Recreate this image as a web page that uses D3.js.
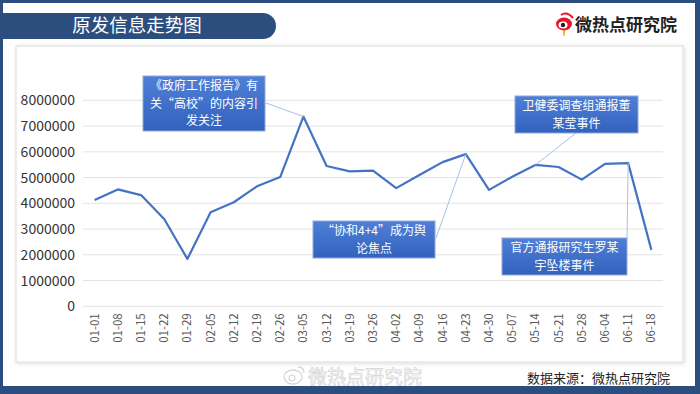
<!DOCTYPE html>
<html>
<head>
<meta charset="utf-8">
<script src="https://cdn.jsdelivr.net/npm/d3@7"></script>
<style>
  html, body { margin: 0; padding: 0; background: #fff; }
  svg { display: block; font-family: "Noto Sans CJK SC", "Noto Sans", sans-serif; }
</style>
</head>
<body>
<div id="chart"></div>
<script>
// weekly dates and values
const dates = ['01-01', '01-08', '01-15', '01-22', '01-29', '02-05', '02-12', '02-19', '02-26',
  '03-05', '03-12', '03-19', '03-26', '04-02', '04-09', '04-16', '04-23', '04-30',
  '05-07', '05-14', '05-21', '05-28', '06-04', '06-11', '06-18'];
const values = [4130000, 4540000, 4320000, 3390000, 1840000, 3650000, 4040000, 4660000, 5020000,
  7370000, 5450000, 5240000, 5270000, 4590000, 5100000, 5600000, 5910000, 4520000,
  5030000, 5490000, 5410000, 4920000, 5530000, 5560000, 2190000];
const yTicks = [0, 1000000, 2000000, 3000000, 4000000, 5000000, 6000000, 7000000, 8000000];

const noteDates = ['03-05', '05-14', '04-23', '06-11'];
const noteTexts = [
  ['《政府工作报告》有', '关“高校”的内容引', '发关注'],
  ['卫健委调查组通报董', '某莹事件'],
  ['“协和4+4”成为舆', '论焦点'],
  ['官方通报研究生罗某', '宇坠楼事件']
];

const title = '原发信息走势图';
const brand = '微热点研究院';
const source = '数据来源：微热点研究院';

const W = 700, H = 394;
const svg = d3.select('#chart').append('svg')
  .attr('width', W)
  .attr('height', H);

const defs = svg.append('defs');
const grad = defs.append('linearGradient')
  .attr('id', 'boxgrad')
  .attr('x1', 0).attr('y1', 0).attr('x2', 0).attr('y2', 1);
grad.append('stop').attr('offset', '0%').attr('stop-color', '#4f7fd6');
grad.append('stop').attr('offset', '100%').attr('stop-color', '#3262bd');

const shadow = defs.append('filter').attr('id', 'shadow')
  .attr('x', '-5%').attr('y', '-5%').attr('width', '110%').attr('height', '110%');
shadow.append('feDropShadow')
  .attr('dx', 1).attr('dy', 1).attr('stdDeviation', 2)
  .attr('flood-color', '#000').attr('flood-opacity', 0.15);

// frame
svg.append('rect')
  .attr('width', W).attr('height', H)
  .attr('fill', '#2c4e7e');
svg.append('rect')
  .attr('x', 3).attr('y', 3)
  .attr('width', W - 8).attr('height', 383)
  .attr('fill', '#fff');

// title banner
svg.append('path')
  .attr('d', 'M3,13 H263 A13,13 0 0 1 263,39 H3 Z')
  .attr('fill', '#2c4e7e');
svg.append('text')
  .attr('x', 137).attr('y', 32)
  .attr('text-anchor', 'middle')
  .attr('fill', '#fff')
  .attr('font-size', 18.5)
  .text(title);

// logo, top right
const logo = svg.append('g').attr('transform', 'translate(564,24)');
logo.append('ellipse').attr('rx', 8).attr('ry', 6.5).attr('fill', '#e6162d');
logo.append('ellipse').attr('cx', -1).attr('cy', 1).attr('rx', 4.5).attr('ry', 3.6).attr('fill', '#fff');
logo.append('circle').attr('cx', -1).attr('cy', 1).attr('r', 2.2).attr('fill', '#222');
logo.append('path').attr('d', 'M-1,6 L1,6 L0.5,12 L-0.5,12 Z').attr('fill', '#f39800');
logo.append('path').attr('d', 'M-3,-9 Q3,-13 9,-6').attr('fill', 'none')
  .attr('stroke', '#e6162d').attr('stroke-width', 2);
svg.append('text')
  .attr('x', 575).attr('y', 31)
  .attr('fill', '#222')
  .attr('font-size', 17)
  .attr('font-weight', 'bold')
  .text(brand);

// chart panel
svg.append('rect')
  .attr('x', 16).attr('y', 46)
  .attr('width', 667).attr('height', 316)
  .attr('fill', '#fff')
  .attr('stroke', '#dcdcdc')
  .attr('filter', 'url(#shadow)');

const x = d3.scaleBand()
  .domain(dates)
  .range([83, 663]);
const y = d3.scaleLinear()
  .domain([0, 8000000])
  .range([306.3, 100.3]);

// grid
svg.append('g')
  .selectAll('line')
  .data(yTicks)
  .enter().append('line')
  .attr('x1', 83).attr('x2', 663)
  .attr('y1', d => y(d)).attr('y2', d => y(d))
  .attr('stroke', '#e3e3e3')
  .attr('stroke-width', 1);

// y axis labels
const yAxis = svg.append('g')
  .attr('transform', 'translate(83,0)')
  .call(d3.axisLeft(y).tickValues(yTicks).tickSize(0).tickPadding(8).tickFormat(d3.format('d')));
yAxis.select('.domain').remove();
yAxis.selectAll('text')
  .attr('font-family', '"Noto Sans CJK SC", sans-serif')
  .attr('font-size', 14)
  .attr('fill', '#333');

// x axis labels (rotated)
const xAxis = svg.append('g')
  .attr('transform', 'translate(0,306.3)')
  .call(d3.axisBottom(x).tickSize(0).tickPadding(0));
xAxis.select('.domain').remove();
xAxis.selectAll('text')
  .attr('font-family', '"Noto Sans CJK SC", sans-serif')
  .attr('font-size', 11.5)
  .attr('fill', '#595959')
  .attr('transform', 'rotate(-90)')
  .attr('text-anchor', 'end')
  .attr('x', -7)
  .attr('y', 0)
  .attr('dy', '0.35em');

// series line
const line = d3.line()
  .x((d, i) => x(dates[i]) + x.bandwidth() / 2)
  .y(d => y(d));
svg.append('path')
  .datum(values)
  .attr('d', line)
  .attr('fill', 'none')
  .attr('stroke', '#4472c4')
  .attr('stroke-width', 2.2)
  .attr('stroke-linejoin', 'round');

// annotation boxes: [x, y, w, h] and leader start point
const noteBoxes = [
  {box: [143, 76, 122, 55], from: [266, 103]},
  {box: [515, 96, 123, 37], from: [576, 133]},
  {box: [313, 221, 122, 37], from: [436, 238]},
  {box: [502, 238, 125, 37], from: [627, 239]}
];

noteDates.forEach((dt, i) => {
  const b = noteBoxes[i];
  const px = x(dt) + x.bandwidth() / 2;
  const py = y(values[dates.indexOf(dt)]);
  svg.append('line')
    .attr('x1', b.from[0]).attr('y1', b.from[1])
    .attr('x2', px).attr('y2', py)
    .attr('stroke', '#a9c0e8')
    .attr('stroke-width', 1);
  svg.append('rect')
    .attr('x', b.box[0]).attr('y', b.box[1])
    .attr('width', b.box[2]).attr('height', b.box[3])
    .attr('fill', 'url(#boxgrad)')
    .attr('stroke', '#8faadc')
    .attr('stroke-width', 1);
  const lines = noteTexts[i];
  const lh = 17.6;
  const top = b.box[1] + b.box[3] / 2 - (lines.length - 1) * lh / 2;
  lines.forEach((t, j) => {
    svg.append('text')
      .attr('x', b.box[0] + b.box[2] / 2)
      .attr('y', top + j * lh)
      .attr('dy', '0.35em')
      .attr('text-anchor', 'middle')
      .attr('fill', '#fff')
      .attr('font-size', 12)
      .text(t);
  });
});

// watermark bottom left
const wm = svg.append('g').attr('transform', 'translate(293,377)');
wm.append('ellipse').attr('rx', 9).attr('ry', 7)
  .attr('fill', 'none').attr('stroke', '#d6d6d6').attr('stroke-width', 1.3);
wm.append('circle').attr('cx', -1).attr('cy', 1).attr('r', 3)
  .attr('fill', 'none').attr('stroke', '#d6d6d6').attr('stroke-width', 1.1);
wm.append('path').attr('d', 'M5,-10 Q11,-10 11,-4').attr('fill', 'none')
  .attr('stroke', '#d6d6d6').attr('stroke-width', 1.3);
svg.append('text')
  .attr('x', 308).attr('y', 384)
  .attr('fill', '#fafafa')
  .attr('stroke', '#d2d2d2')
  .attr('stroke-width', 0.6)
  .attr('font-size', 19)
  .text(brand);

// data source
svg.append('text')
  .attr('x', 670).attr('y', 383)
  .attr('text-anchor', 'end')
  .attr('fill', '#222')
  .attr('font-size', 13)
  .text(source);
</script>
</body>
</html>
